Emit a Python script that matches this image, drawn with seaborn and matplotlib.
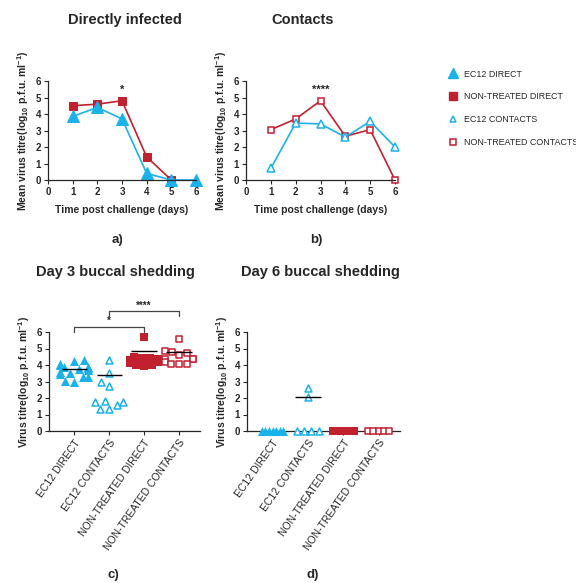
import matplotlib
matplotlib.use("Agg")
import matplotlib.pyplot as plt
from matplotlib.lines import Line2D
import numpy as np
import pandas as pd
import seaborn as sns

sns.set_style("ticks")
plt.rcParams['font.family'] = ['Liberation Sans', 'DejaVu Sans']
plt.rcParams['mathtext.default'] = 'regular'

BLUE = '#1AB2EA'
RED = '#C1202F'

# Panel a/b data: mean titres per day
days = [1, 2, 3, 4, 5, 6]
ec12_direct = [3.85, 4.4, 3.7, 0.4, 0.0, 0.0]
nt_direct_days = [1, 2, 3, 4, 5]
nt_direct = [4.5, 4.6, 4.8, 1.4, 0.0]
ec12_contacts = [0.7, 3.45, 3.4, 2.6, 3.55, 2.0]
nt_contacts = [3.05, 3.7, 4.8, 2.65, 3.05, 0.0]

groups = ['EC12 DIRECT', 'EC12 CONTACTS', 'NON-TREATED DIRECT', 'NON-TREATED CONTACTS']

# Day 3 buccal shedding, individual animals
d3_ec12_direct = [4.3, 4.25, 4.05, 4.0, 3.9, 3.85, 3.8, 3.75, 3.7, 3.6, 3.5, 3.45, 3.3, 3.25, 3.05, 3.0]
d3_ec12_contacts = [4.3, 3.5, 2.95, 2.7, 1.75, 1.75, 1.8, 1.55, 1.35, 1.35]
d3_nt_direct = [5.7, 4.5, 4.45, 4.4, 4.35, 4.3, 4.3, 4.25, 4.2, 4.1, 4.0, 4.0, 3.95]
d3_nt_contacts = [5.6, 4.85, 4.8, 4.7, 4.6, 4.35, 4.35, 4.35, 4.2, 4.05, 4.05, 4.05]
d3_lines = [3.78, 3.4, 4.85, 4.8]

# Day 6 buccal shedding
d6_ec12_direct = [0.0] * 7
d6_ec12_contacts = [2.6, 2.05, 0.0, 0.0, 0.0, 0.0]
d6_nt_direct = [0.0] * 10
d6_nt_contacts = [0.0] * 5
d6_lines = [0.0, 2.05, 0.0, 0.0]

styles = {
    'EC12 DIRECT': dict(marker='^', color=BLUE, edgecolor=BLUE, linewidth=0, size=6.5),
    'EC12 CONTACTS': dict(marker='^', color='white', edgecolor=BLUE, linewidth=1.1, size=5),
    'NON-TREATED DIRECT': dict(marker='s', color=RED, edgecolor=RED, linewidth=0, size=5.5),
    'NON-TREATED CONTACTS': dict(marker='s', color='white', edgecolor=RED, linewidth=1.1, size=4.5),
}

W, H = 576, 583
fig = plt.figure(figsize=(W / 100, H / 100), dpi=100)


def fx(px):
    return px / W


def fy(py):
    return 1 - py / H


ax_a = fig.add_axes([fx(48), fy(180), fx(196 - 48), (180 - 81) / H])
ax_b = fig.add_axes([fx(246), fy(180), fx(395 - 246), (180 - 81) / H])
ax_c = fig.add_axes([fx(49), fy(431), fx(200 - 49), (431 - 332) / H])
ax_d = fig.add_axes([fx(247), fy(431), fx(400 - 247), (431 - 332) / H])

ylab_mean = r"Mean virus titre(log$_{10}$ p.f.u. ml$^{-1}$)"
ylab = r"Virus titre(log$_{10}$ p.f.u. ml$^{-1}$)"


def style_axis(ax):
    sns.despine(ax=ax)
    ax.set_ylim(0, 6)
    ax.set_yticks(range(0, 7))
    ax.tick_params(axis='both', length=3, width=0.8, labelsize=7, pad=2)
    for lab in ax.get_yticklabels():
        lab.set_fontweight('bold')
    for sp in ax.spines.values():
        sp.set_linewidth(0.9)


# Panel a
sns.lineplot(x=nt_direct_days, y=nt_direct, ax=ax_a, color=RED, marker='s', markersize=6,
             markeredgecolor=RED, linewidth=1.2, clip_on=False)
sns.lineplot(x=days, y=ec12_direct, ax=ax_a, color=BLUE, marker='^', markersize=8,
             markeredgecolor=BLUE, linewidth=1.2, clip_on=False)
ax_a.text(3, 5.15, '*', ha='center', va='bottom', fontsize=8, fontweight='bold')

# Panel b
sns.lineplot(x=days, y=nt_contacts, ax=ax_b, color=RED, marker='s', markersize=5,
             markerfacecolor='white', markeredgecolor=RED, markeredgewidth=1.1,
             linewidth=1.2, clip_on=False)
sns.lineplot(x=days, y=ec12_contacts, ax=ax_b, color=BLUE, marker='^', markersize=5.5,
             markerfacecolor='white', markeredgecolor=BLUE, markeredgewidth=1.1,
             linewidth=1.2, clip_on=False)
ax_b.text(3, 5.15, '****', ha='center', va='bottom', fontsize=8, fontweight='bold')

for ax in [ax_a, ax_b]:
    style_axis(ax)
    ax.set_xlim(0, 6)
    ax.set_xticks([0] + days)
    for l in ax.get_xticklabels():
        l.set_fontweight('bold')
    ax.set_xlabel('Time post challenge (days)', fontsize=7.5, fontweight='bold', labelpad=6)
    ax.set_ylabel(ylab_mean, fontsize=7.5, fontweight='bold', labelpad=3)


def to_frame(values):
    rows = []
    for g, vals in zip(groups, values):
        for v in vals:
            rows.append({'group': g, 'titre': v})
    return pd.DataFrame(rows)


def finish_scatter(ax, lines):
    for i, m in enumerate(lines):
        if m > 0:
            ax.hlines(m, i - 0.36, i + 0.36, color='black', linewidth=1.0, zorder=5)
    style_axis(ax)
    ax.set_xlim(-0.72, 3.6)
    ax.set_xlabel('')
    ax.set_ylabel(ylab, fontsize=7.5, fontweight='bold', labelpad=3)
    ax.set_xticks(range(len(groups)))
    ax.set_xticklabels(groups, rotation=55, ha='right', rotation_mode='anchor', fontsize=7.5)


# Panel c: beeswarm of day 3 titres
df3 = to_frame([d3_ec12_direct, d3_ec12_contacts, d3_nt_direct, d3_nt_contacts])
for g in groups:
    st = styles[g]
    sns.swarmplot(data=df3[df3['group'] == g], x='group', y='titre', order=groups, ax=ax_c,
                  marker=st['marker'], color=st['color'], edgecolor=st['edgecolor'],
                  linewidth=st['linewidth'], size=st['size'], clip_on=False, warn_thresh=1)
finish_scatter(ax_c, d3_lines)

# Panel d: tied values laid side by side (GraphPad style)
df6 = to_frame([d6_ec12_direct, d6_ec12_contacts, d6_nt_direct, d6_nt_contacts])
df6['pos'] = df6['group'].map({g: i for i, g in enumerate(groups)}).astype(float)
for (g, v), idx in df6.groupby(['group', 'titre']).groups.items():
    k = len(idx)
    if k > 1:
        df6.loc[idx, 'pos'] += np.linspace(-0.3, 0.3, k)
for g in groups:
    st = styles[g]
    sub = df6[df6['group'] == g]
    sns.scatterplot(data=sub, x='pos', y='titre', ax=ax_d, marker=st['marker'],
                    color=st['color'], edgecolor=st['edgecolor'], linewidth=st['linewidth'],
                    s=st['size'] ** 2, clip_on=False, zorder=4)
finish_scatter(ax_d, d6_lines)


def bracket(ax, x1, x2, y, drop, label):
    ax.plot([x1, x1, x2, x2], [y - drop, y, y, y - drop], color='#444444', linewidth=0.9,
            clip_on=False)
    ax.text((x1 + x2) / 2, y + 0.05, label, ha='center', va='bottom', fontsize=7,
            fontweight='bold')


bracket(ax_c, 0, 2, 6.3, 0.3, '*')
bracket(ax_c, 1, 3, 7.25, 0.3, '****')

# Titles and panel letters
fig.text(fx(125), fy(20), 'Directly infected', ha='center', va='center', fontsize=10.5, fontweight='bold')
fig.text(fx(303), fy(20), 'Contacts', ha='center', va='center', fontsize=10.5, fontweight='bold')
fig.text(fx(115), fy(272), 'Day 3 buccal shedding', ha='center', va='center', fontsize=10.5, fontweight='bold')
fig.text(fx(320), fy(272), 'Day 6 buccal shedding', ha='center', va='center', fontsize=10.5, fontweight='bold')
for lab, x, y in [('a)', 118, 240), ('b)', 316, 240), ('c)', 113, 575), ('d)', 313, 575)]:
    fig.text(fx(x), fy(y), lab, ha='center', va='center', fontsize=9.5, fontweight='bold')

# Legend
handles = [
    Line2D([], [], linestyle='none', marker='^', markersize=7, color=BLUE),
    Line2D([], [], linestyle='none', marker='s', markersize=6, color=RED),
    Line2D([], [], linestyle='none', marker='^', markersize=4.5, markerfacecolor='white',
           markeredgecolor=BLUE, markeredgewidth=1.1),
    Line2D([], [], linestyle='none', marker='s', markersize=4, markerfacecolor='white',
           markeredgecolor=RED, markeredgewidth=1.1),
]
labels = ['EC12 DIRECT', 'NON-TREATED DIRECT', 'EC12 CONTACTS', 'NON-TREATED CONTACTS']
fig.legend(handles, labels, loc='upper left', bbox_to_anchor=(fx(445), fy(66)),
           frameon=False, fontsize=6.4, labelspacing=1.55, handlelength=1.0,
           handletextpad=0.7, borderaxespad=0)

fig.savefig('out.png', dpi=100)
